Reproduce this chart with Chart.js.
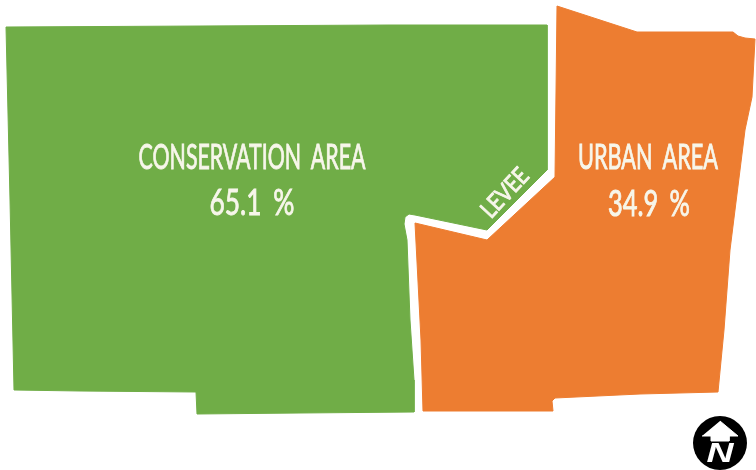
<!DOCTYPE html>
<html>
<head>
<meta charset="utf-8">
<style>
  html, body { margin: 0; padding: 0; background: #fff; }
  canvas { display: block; }
</style>
<script src="https://cdn.jsdelivr.net/npm/chart.js@4"></script>
</head>
<body>
<canvas id="myChart" width="756" height="470"></canvas>
<script>
// outlines, in picture pixels
const conservationX = [6, 200, 388, 547, 547, 487, 415, 409, 405, 404, 407, 410, 414, 414, 300, 197, 196, 80, 14, 10, 6];
const conservationY = [27, 26, 25, 25, 170, 230, 215, 214, 217, 224, 240, 320, 380, 412, 413, 414, 392, 391, 390, 200, 27];
const urbanX = [557, 637, 733, 738, 745, 755, 752, 745, 730, 724, 718, 640, 555, 552, 553, 423, 421, 415, 487, 555, 557];
const urbanY = [6, 32, 32, 36, 38, 39, 97, 130, 250, 330, 392, 394, 398, 401, 411, 411, 340, 223, 240, 177, 6];
const arrowX = [720, 738, 729, 729, 711, 711, 702];
const arrowY = [421, 436, 436, 441, 441, 436, 436];
const compassX = [720];
const compassY = [443];

const labelTexts = ['CONSERVATION AREA', '65.1 %', 'URBAN AREA', '34.9 %', 'LEVEE', 'N'];
const labelX = [252, 252, 648, 649, 505, 720];
const labelY = [158, 203, 158, 204, 193, 454];
const labelWidths = [227, 85, 140, 82, 58, 27];
const labelSizes = [35, 37, 35, 37, 24, 28];
const labelAngles = [0, 0, 0, 0, -47, 0];

function toPoints(xs, ys) {
    return xs.map((x, i) => ({ x: x, y: ys[i] }));
}

// the labels are squeezed sideways, the original lettering is a condensed face
const textPlugin = {
    id: 'areaText',
    afterDatasetsDraw(chart) {
        const ctx = chart.ctx;
        labelTexts.forEach((text, i) => {
            const isNorth = text === 'N';
            ctx.save();
            ctx.font = isNorth ? 'italic 700 ' + labelSizes[i] + 'px "Liberation Sans"' : labelSizes[i] + 'px Lato';
            ctx.fillStyle = isNorth ? '#ffffff' : '#f7f6ea';
            ctx.strokeStyle = ctx.fillStyle;
            ctx.lineWidth = isNorth ? 0 : 0.9;
            ctx.textAlign = 'center';
            ctx.textBaseline = 'middle';
            if (!isNorth) ctx.wordSpacing = '7px';
            ctx.translate(chart.scales.x.getPixelForValue(labelX[i]), chart.scales.y.getPixelForValue(labelY[i]));
            ctx.rotate(labelAngles[i] * Math.PI / 180);
            ctx.scale(labelWidths[i] / ctx.measureText(text).width, 1);
            ctx.fillText(text, 0, 0);
            if (!isNorth) ctx.strokeText(text, 0, 0);
            ctx.restore();
        });
    }
};

const ctx = document.getElementById('myChart').getContext('2d');
const myChart = new Chart(ctx, {
    type: 'line',
    data: {
        datasets: [
        {
            label: 'Arrow',
            data: toPoints(arrowX, arrowY),
            backgroundColor: '#ffffff',
            borderColor: '#ffffff',
            borderWidth: 1,
            fill: 'shape',
            pointRadius: 0,
            order: 0
        },
        {
            label: 'Compass',
            data: toPoints(compassX, compassY),
            showLine: false,
            pointRadius: 27,
            pointBackgroundColor: '#000000',
            pointBorderWidth: 0,
            order: 1
        },
        {
            label: 'Conservation area',
            data: toPoints(conservationX, conservationY),
            backgroundColor: '#70ad47',
            borderColor: '#70ad47',
            borderWidth: 1,
            fill: 'shape',
            pointRadius: 0,
            order: 2
        },
        {
            label: 'Urban area',
            data: toPoints(urbanX, urbanY),
            backgroundColor: '#ed7d31',
            borderColor: '#ed7d31',
            borderWidth: 1,
            fill: 'shape',
            pointRadius: 0,
            order: 3
        }
    ]
    },
    options: {
        responsive: false,
        maintainAspectRatio: false,
        animation: false,
        layout: { padding: 0, autoPadding: false },
        plugins: {
            legend: { display: false },
            tooltip: { enabled: false }
        },
        scales: {
            x: { type: 'linear', display: false, min: 0, max: 756 },
            y: { type: 'linear', display: false, min: 0, max: 470, reverse: true }
        }
    },
    plugins: [textPlugin]
});
</script>
</body>
</html>
